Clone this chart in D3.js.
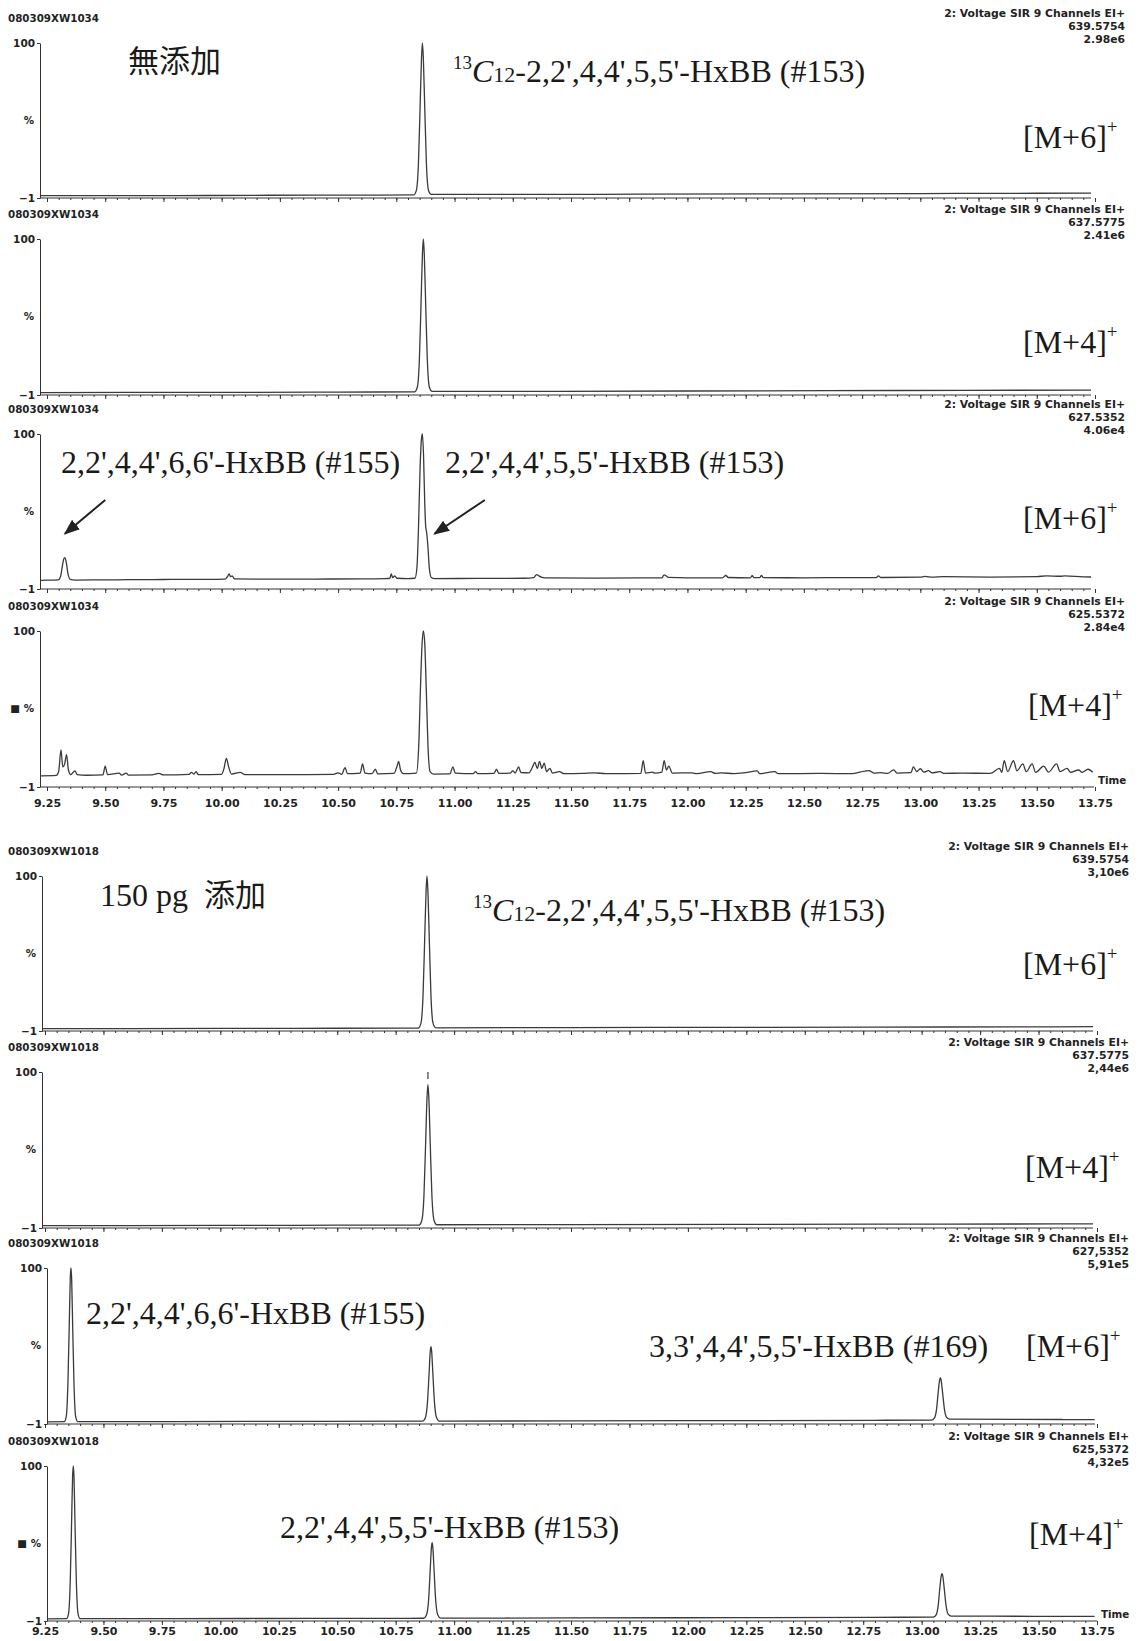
<!DOCTYPE html>
<html>
<head>
<meta charset="utf-8">
<script src="https://cdn.jsdelivr.net/npm/d3@7"></script>
<style>
  body { margin: 0; background: #fff; }
  svg { display: block; }
  .hdr { font-family: "DejaVu Sans", sans-serif; font-weight: bold; font-size: 10.3px; fill: #222; }
  .hdr.rt { font-size: 10.8px; }
  .ann { font-family: "Liberation Serif", "Times New Roman", serif; font-size: 32px; fill: #1a1a1a; }
  .cjk { font-family: "Noto Sans CJK JP", sans-serif; font-size: 31px; fill: #1a1a1a; }
  .axis text { font-family: "DejaVu Sans", sans-serif; font-weight: bold; font-size: 10.5px; fill: #222; }
  .axis path, .axis line { stroke: #333; stroke-width: 1; }
  .trace { fill: none; stroke: #3a3a3a; stroke-width: 1.3; }
</style>
</head>
<body>
<svg id="chart" width="1138" height="1641"></svg>
<script>
// chromatogram headers
const samples = ['080309XW1034', '080309XW1018'];
const channel = '2: Voltage SIR 9 Channels EI+';
const masses = ['639.5754', '637.5775', '627.5352', '625.5372', '639.5754', '637.5775', '627,5352', '625,5372'];
const intensities = ['2.98e6', '2.41e6', '4.06e4', '2.84e4', '3,10e6', '2,44e6', '5,91e5', '4,32e5'];
const ions = ['M+6', 'M+4', 'M+6', 'M+4', 'M+6', 'M+4', 'M+6', 'M+4'];

// time axis (min) and intensity axis (%)
const timeTicks = [9.25, 9.50, 9.75, 10.00, 10.25, 10.50, 10.75, 11.00, 11.25, 11.50,
                   11.75, 12.00, 12.25, 12.50, 12.75, 13.00, 13.25, 13.50, 13.75];
const yTicks = [-1, 100];

// traces: [time, %]
const trace1034_639 = [
  [9.22, 0.5], [9.5, 0.6], [9.8, 0.6], [10.2, 0.8], [10.6, 0.9], [10.824, 1.0],
  [10.836, 4], [10.845, 22], [10.852, 58], [10.858, 90], [10.862, 100], [10.866, 90],
  [10.872, 58], [10.879, 22], [10.888, 4], [10.9, 1.3], [11.3, 1.3], [11.8, 1.5],
  [12.4, 1.7], [13.0, 1.9], [13.5, 2.1], [13.74, 2.2]
];
const trace1034_637 = [
  [9.22, 0.6], [9.6, 0.7], [10.0, 0.7], [10.5, 0.9], [10.828, 1.0],
  [10.84, 4], [10.849, 22], [10.856, 58], [10.862, 90], [10.866, 100], [10.87, 90],
  [10.876, 58], [10.883, 22], [10.892, 4], [10.904, 1.3], [11.4, 1.4], [12.0, 1.6],
  [12.6, 1.8], [13.2, 2.0], [13.74, 2.2]
];
const trace1034_627 = [
  [9.22, 4.6], [9.27, 4.8], [9.298, 4.9], [9.308, 7], [9.316, 14], [9.322, 18.5], [9.327, 19.5],
  [9.332, 17], [9.34, 9], [9.35, 5.2], [9.37, 4.8], [9.45, 4.9], [9.55, 5.0], [9.65, 5.1],
  [9.75, 5.2], [9.85, 5.3], [9.95, 5.3], [10.015, 5.5], [10.025, 7], [10.032, 8.8], [10.038, 7],
  [10.045, 7.6], [10.055, 5.6], [10.2, 5.4], [10.4, 5.5], [10.6, 5.6], [10.7, 5.8], [10.722, 6],
  [10.728, 8.9], [10.734, 6.4], [10.744, 7.6], [10.752, 6], [10.8, 5.7], [10.83, 6], [10.838, 12],
  [10.845, 38], [10.852, 78], [10.858, 97], [10.862, 100], [10.867, 85], [10.872, 55], [10.876, 40],
  [10.88, 36], [10.885, 28], [10.892, 12], [10.9, 6.5], [10.915, 5.8], [11.1, 5.9], [11.3, 6.0],
  [11.34, 6.4], [11.352, 8.4], [11.362, 7.6], [11.375, 6.6], [11.4, 6.2], [11.6, 6.1], [11.8, 6.2],
  [11.89, 6.3], [11.9, 8.2], [11.908, 7.6], [11.918, 6.6], [12.0, 6.3], [12.15, 6.3], [12.165, 7.8],
  [12.175, 6.5], [12.27, 6.3], [12.278, 7.7], [12.286, 6.4], [12.31, 6.4], [12.318, 7.8], [12.326, 6.4],
  [12.5, 6.3], [12.7, 6.4], [12.81, 6.4], [12.82, 7.6], [12.83, 6.5], [13.0, 6.7], [13.02, 7.2],
  [13.05, 6.7], [13.1, 7.0], [13.3, 6.8], [13.5, 7.0], [13.54, 7.6], [13.6, 7.3], [13.62, 7.6],
  [13.7, 6.9], [13.74, 6.8]
];
const trace1034_625 = [
  [9.22, 6.2], [9.29, 6.5], [9.3, 9], [9.31, 23], [9.318, 12], [9.326, 14], [9.334, 20], [9.342, 10],
  [9.352, 7], [9.37, 9.5], [9.38, 7], [9.42, 6.6], [9.49, 6.8], [9.5, 12.5], [9.51, 7], [9.56, 8],
  [9.57, 6.7], [9.59, 8], [9.6, 6.7], [9.7, 6.8], [9.73, 7.8], [9.75, 6.8], [9.86, 7.2], [9.87, 8.5],
  [9.88, 7.4], [9.89, 9], [9.9, 7], [10.0, 7.2], [10.01, 11], [10.02, 17.5], [10.03, 12], [10.042, 7.4],
  [10.08, 8.5], [10.1, 7], [10.3, 7], [10.48, 7.2], [10.5, 8.2], [10.515, 7.2], [10.53, 11.5],
  [10.54, 7.6], [10.595, 8], [10.605, 14], [10.615, 8], [10.645, 7.6], [10.66, 10.5], [10.67, 7.5],
  [10.74, 7.8], [10.752, 12], [10.76, 15.5], [10.768, 10], [10.78, 7.6], [10.836, 8], [10.846, 25],
  [10.853, 60], [10.86, 90], [10.866, 100], [10.872, 92], [10.879, 60], [10.886, 25], [10.895, 9],
  [10.91, 7.4], [10.98, 7.5], [10.993, 12], [11.003, 8], [11.08, 7.6], [11.09, 9], [11.1, 7.6],
  [11.17, 7.8], [11.18, 10.5], [11.19, 7.8], [11.24, 8], [11.25, 9.5], [11.26, 8], [11.275, 12],
  [11.285, 8.4], [11.32, 8.2], [11.335, 12], [11.345, 15], [11.355, 11], [11.365, 15.5], [11.375, 11],
  [11.385, 14.5], [11.395, 9], [11.41, 11], [11.42, 8], [11.45, 9], [11.47, 7.6], [11.55, 7.8],
  [11.6, 8.2], [11.65, 7.6], [11.72, 7.7], [11.8, 7.8], [11.81, 16], [11.82, 8], [11.85, 8.6],
  [11.86, 8], [11.89, 8.6], [11.9, 16], [11.91, 10], [11.92, 12.5], [11.935, 8], [12.02, 8.2],
  [12.04, 7.6], [12.1, 8.9], [12.12, 7.8], [12.145, 8.2], [12.2, 7.6], [12.25, 8.3], [12.3, 9.4],
  [12.31, 7.6], [12.375, 8.9], [12.39, 7.6], [12.575, 7.8], [12.7, 7.6], [12.78, 9.6], [12.8, 8],
  [12.83, 8.3], [12.86, 7.8], [12.885, 10.1], [12.9, 8], [12.96, 8.3], [12.97, 12], [12.985, 9],
  [13.0, 10.8], [13.015, 8.6], [13.035, 9.6], [13.05, 8.2], [13.085, 8.9], [13.1, 7.8], [13.18, 8],
  [13.3, 7.8], [13.34, 11], [13.35, 8.5], [13.36, 16], [13.375, 9], [13.4, 16], [13.415, 9.5],
  [13.44, 14], [13.455, 9], [13.48, 14], [13.495, 8.5], [13.53, 12.5], [13.55, 8.6], [13.585, 14],
  [13.6, 9], [13.63, 11], [13.645, 8.5], [13.68, 10], [13.695, 8.5], [13.72, 10.5], [13.74, 8.5]
];
const trace1018_639 = [
  [9.22, 0.5], [9.6, 0.6], [10.0, 0.7], [10.5, 0.8], [10.846, 0.9],
  [10.858, 4], [10.867, 22], [10.874, 58], [10.88, 90], [10.884, 100], [10.888, 90],
  [10.894, 58], [10.901, 22], [10.91, 4], [10.922, 1.1], [11.5, 1.2], [12.2, 1.4],
  [12.8, 1.5], [13.4, 1.7], [13.74, 1.8]
];
const trace1018_637 = [
  [9.22, 0.5], [9.6, 0.6], [10.0, 0.7], [10.5, 0.8], [10.85, 0.9],
  [10.862, 4], [10.871, 20], [10.878, 53], [10.884, 83], [10.888, 92], [10.892, 83],
  [10.898, 53], [10.905, 20], [10.914, 4], [10.926, 1.1], [11.5, 1.2], [12.2, 1.3],
  [12.8, 1.5], [13.4, 1.6], [13.74, 1.7]
];
const trace1018_627 = [
  [9.22, 0.4], [9.332, 0.5], [9.341, 4], [9.348, 25], [9.354, 65], [9.358, 93], [9.361, 100],
  [9.364, 93], [9.368, 65], [9.374, 25], [9.381, 4], [9.39, 0.6], [9.8, 0.6], [10.4, 0.7],
  [10.865, 0.8], [10.877, 3], [10.886, 13], [10.893, 32], [10.898, 46], [10.901, 49], [10.904, 46],
  [10.909, 32], [10.916, 13], [10.925, 3], [10.937, 0.9], [11.5, 1.0], [12.2, 1.2], [12.8, 1.4],
  [13.042, 1.5], [13.055, 3], [13.064, 9], [13.071, 20], [13.077, 27.5], [13.08, 29], [13.083, 27.5],
  [13.089, 20], [13.097, 9], [13.106, 3.5], [13.12, 2.2], [13.4, 2.0], [13.6, 1.9], [13.74, 1.8]
];
const trace1018_625 = [
  [9.22, 0.4], [9.342, 0.5], [9.351, 4], [9.358, 25], [9.364, 65], [9.368, 93], [9.371, 100],
  [9.374, 93], [9.378, 65], [9.384, 25], [9.391, 4], [9.4, 0.6], [9.8, 0.6], [10.4, 0.7],
  [10.87, 0.8], [10.882, 3], [10.891, 13], [10.898, 33], [10.903, 47], [10.906, 50], [10.909, 47],
  [10.914, 33], [10.921, 13], [10.93, 3], [10.942, 0.9], [11.5, 1.0], [12.2, 1.2], [12.8, 1.4],
  [13.049, 1.5], [13.062, 3], [13.071, 9.5], [13.078, 21], [13.084, 28.5], [13.087, 30], [13.09, 28.5],
  [13.096, 21], [13.104, 9.5], [13.113, 3.5], [13.127, 2.2], [13.4, 2.1], [13.6, 2.0], [13.74, 2.0]
];

const traces = [trace1034_639, trace1034_637, trace1034_627, trace1034_625,
                trace1018_639, trace1018_637, trace1018_627, trace1018_625];

// arrows in panel 3, [time, %]
const arrows = [
  { from: [9.50, 57], to: [9.327, 35] },
  { from: [11.13, 57], to: [10.914, 35] }
];

// page layout
const groupRange = [[47, 1095], [45, 1097]];
const layout = [
  { group: 0, top: 43,   bottom: 198,  axisX: 40, axisEnd: 1091, ionX: 1023, ionY: 148 },
  { group: 0, top: 239,  bottom: 395,  axisX: 40, axisEnd: 1091, ionX: 1023, ionY: 353 },
  { group: 0, top: 434,  bottom: 589,  axisX: 40, axisEnd: 1091, ionX: 1023, ionY: 529 },
  { group: 0, top: 631,  bottom: 787,  axisX: 40, axisEnd: 1094, ionX: 1028, ionY: 716, labels: 12 },
  { group: 1, top: 876,  bottom: 1031, axisX: 42, axisEnd: 1093, ionX: 1023, ionY: 975 },
  { group: 1, top: 1072, bottom: 1228, axisX: 42, axisEnd: 1093, ionX: 1025, ionY: 1178 },
  { group: 1, top: 1268, bottom: 1424, axisX: 47, axisEnd: 1095, ionX: 1026, ionY: 1357 },
  { group: 1, top: 1466, bottom: 1621, axisX: 47, axisEnd: 1097, ionX: 1029, ionY: 1545, labels: 6 }
];

const svg = d3.select('#chart');

svg.append('defs').append('marker')
    .attr('id', 'arrow')
    .attr('viewBox', '0 0 10 10')
    .attr('refX', 9).attr('refY', 5)
    .attr('markerWidth', 16).attr('markerHeight', 16)
    .attr('markerUnits', 'userSpaceOnUse')
    .attr('orient', 'auto')
  .append('path')
    .attr('d', 'M0,1.2L10,5L0,8.8Z')
    .attr('fill', '#222');

const line = d3.line().curve(d3.curveMonotoneX);
const scales = [];

traces.forEach((trace, i) => {
  const L = layout[i];
  const x = d3.scaleLinear().domain([9.25, 13.75]).range(groupRange[L.group]);
  const y = d3.scaleLinear().domain([-1, 100]).range([L.bottom, L.top]);
  scales.push({ x, y });
  const g = svg.append('g');

  // headers
  g.append('text').attr('class', 'hdr').attr('x', 8).attr('y', L.top - 21)
    .text(samples[L.group]);
  const rx = L.group === 0 ? 1125 : 1129;
  [channel, masses[i], intensities[i]].forEach((s, k) => {
    g.append('text').attr('class', 'hdr rt').attr('text-anchor', 'end')
      .attr('x', rx).attr('y', L.top - 26 + k * 13).text(s);
  });

  // y axis
  g.append('g').attr('class', 'axis')
    .attr('transform', `translate(${L.axisX},0)`)
    .call(d3.axisLeft(y).tickValues(yTicks).tickSize(3).tickSizeOuter(0).tickPadding(2)
      .tickFormat(d3.format('d')));
  g.append('text').attr('class', 'hdr').attr('text-anchor', 'end')
    .attr('x', L.axisX - 6).attr('y', y(50) + 4)
    .text(L.labels ? '\u25A0 %' : '%');

  // x axis: line at -1 with ticks
  g.append('line')
    .attr('x1', L.axisX).attr('x2', L.axisEnd)
    .attr('y1', L.bottom).attr('y2', L.bottom)
    .attr('stroke', '#333');
  const minor = d3.range(9.25, 13.76, 0.05).filter(t => x(t) <= L.axisEnd + 1);
  g.append('g').attr('class', 'axis')
    .attr('transform', `translate(0,${L.bottom})`)
    .call(d3.axisBottom(x).tickValues(minor).tickSize(2).tickFormat(''))
    .call(a => a.select('.domain').remove());
  const major = g.append('g').attr('class', 'axis')
    .attr('transform', `translate(0,${L.bottom})`)
    .call(d3.axisBottom(x).tickValues(timeTicks).tickSize(4)
      .tickPadding(L.labels ? L.labels - 4 : 0)
      .tickFormat(L.labels ? d3.format('.2f') : ''))
    .call(a => a.select('.domain').remove());
  if (L.labels) {
    major.selectAll('text').style('font-size', '11px');
    g.append('text').attr('class', 'hdr')
      .attr('x', L.axisEnd + 4).attr('y', L.bottom - 3).text('Time');
  }

  // trace
  const clipId = 'clip' + i;
  svg.select('defs').append('clipPath').attr('id', clipId)
    .append('rect')
      .attr('x', L.axisX + 1).attr('y', L.top - 10)
      .attr('width', L.axisEnd - L.axisX - 1).attr('height', L.bottom - L.top + 10);
  g.append('path').attr('class', 'trace')
    .attr('clip-path', `url(#${clipId})`)
    .attr('d', line(trace.map(d => [x(d[0]), y(d[1])])));

  // ion label
  const ion = g.append('text').attr('class', 'ann').attr('x', L.ionX).attr('y', L.ionY);
  ion.append('tspan').text('[' + ions[i] + ']');
  ion.append('tspan').attr('dy', -15).style('font-size', '19px').text('+');
});

// small mark above apex in panel 6
{
  const { x, y } = scales[5];
  svg.append('line')
    .attr('x1', x(10.888)).attr('x2', x(10.888))
    .attr('y1', y(95.5)).attr('y2', y(100))
    .attr('stroke', '#3a3a3a').attr('stroke-width', 1.2);
}

// compound labels
function labelC13(xp, yp) {
  const t = svg.append('text').attr('class', 'ann').attr('x', xp).attr('y', yp);
  t.append('tspan').style('font-size', '19px').attr('dy', -13).text('13');
  t.append('tspan').style('font-style', 'italic').attr('dy', 13).text('C');
  t.append('tspan').style('font-size', '22px').text('12');
  t.append('tspan').text("-2,2',4,4',5,5'-HxBB (#153)");
}
function label(xp, yp, s) {
  svg.append('text').attr('class', 'ann').attr('x', xp).attr('y', yp).text(s);
}

svg.append('text').attr('class', 'cjk').attr('x', 128).attr('y', 72).text('無添加');
labelC13(453, 82);
label(61, 473, "2,2',4,4',6,6'-HxBB (#155)");
label(445, 473, "2,2',4,4',5,5'-HxBB (#153)");

label(100, 906, '150 pg');
svg.append('text').attr('class', 'cjk').attr('x', 204).attr('y', 906).text('添加');
labelC13(473, 921);
label(86, 1324, "2,2',4,4',6,6'-HxBB (#155)");
label(649, 1357, "3,3',4,4',5,5'-HxBB (#169)");
label(280, 1538, "2,2',4,4',5,5'-HxBB (#153)");

// arrows
{
  const { x, y } = scales[2];
  arrows.forEach(a => {
    svg.append('line')
      .attr('x1', x(a.from[0])).attr('y1', y(a.from[1]))
      .attr('x2', x(a.to[0])).attr('y2', y(a.to[1]))
      .attr('stroke', '#222').attr('stroke-width', 2)
      .attr('marker-end', 'url(#arrow)');
  });
}
</script>
</body>
</html>
